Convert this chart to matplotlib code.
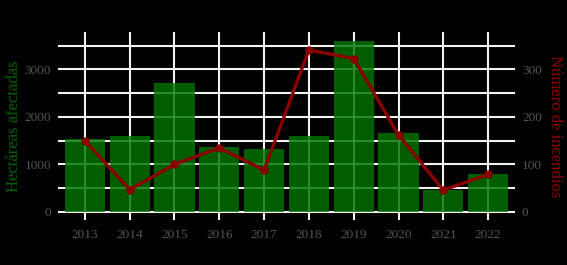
import numpy as np
import matplotlib
matplotlib.use("Agg")
import matplotlib.pyplot as plt

# data
anios = [2013, 2014, 2015, 2016, 2017, 2018, 2019, 2020, 2021, 2022]
hectareas = [1540, 1604, 2718, 1362, 1335, 1604, 3602, 1652, 472, 805]
incendios = [150, 47, 100, 135, 88, 341, 323, 162, 46, 79]

plt.rcParams['font.family'] = ['Liberation Serif', 'DejaVu Serif']

fig = plt.figure(figsize=(5.67, 2.65), dpi=100, facecolor='black')
ax = fig.add_axes([0.1023, 0.168, 0.806, 0.710])
ax.set_facecolor('black')

x = np.arange(len(anios))

# grid under everything
ax.set_axisbelow(True)
ax.set_yticks([0, 1000, 2000, 3000])
ax.set_yticks([500, 1500, 2500, 3500], minor=True)
ax.grid(True, which='major', color='#f2f2f2', linewidth=1.5)
ax.grid(True, which='minor', axis='y', color='#f2f2f2', linewidth=1.5)

ax.bar(x, hectareas, width=0.9, color='#007400', alpha=0.82, linewidth=0)
ax.plot(x, np.array(incendios) * 10, color='#8b0000', linewidth=2.4,
        marker='o', markersize=5, zorder=3)

ax.set_xlim(-0.6, len(anios) - 0.4)
ymax = max(hectareas)
ax.set_ylim(-0.05 * ymax, 1.05 * ymax)
ax.set_xticks(x)
ax.set_xticklabels([str(a) for a in anios])

for s in ax.spines.values():
    s.set_visible(False)
ax.tick_params(which='both', length=0, colors='#555555', labelsize=9.5)
ax.tick_params(axis='y', pad=5)
ax.tick_params(axis='x', pad=6)
ax.set_ylabel('Hectáreas afectadas', color='#006400', fontsize=12, labelpad=2)

ax2 = ax.twinx()
ax2.set_ylim(ax.get_ylim()[0] / 10, ax.get_ylim()[1] / 10)
ax2.set_yticks([0, 100, 200, 300])
for s in ax2.spines.values():
    s.set_visible(False)
ax2.tick_params(length=0, colors='#555555', labelsize=9.5, pad=5)
ax2.set_ylabel('Número de incendios', color='#8b0000', fontsize=12,
               rotation=-90, labelpad=15)

fig.savefig('out.png', dpi=100, facecolor='black')
